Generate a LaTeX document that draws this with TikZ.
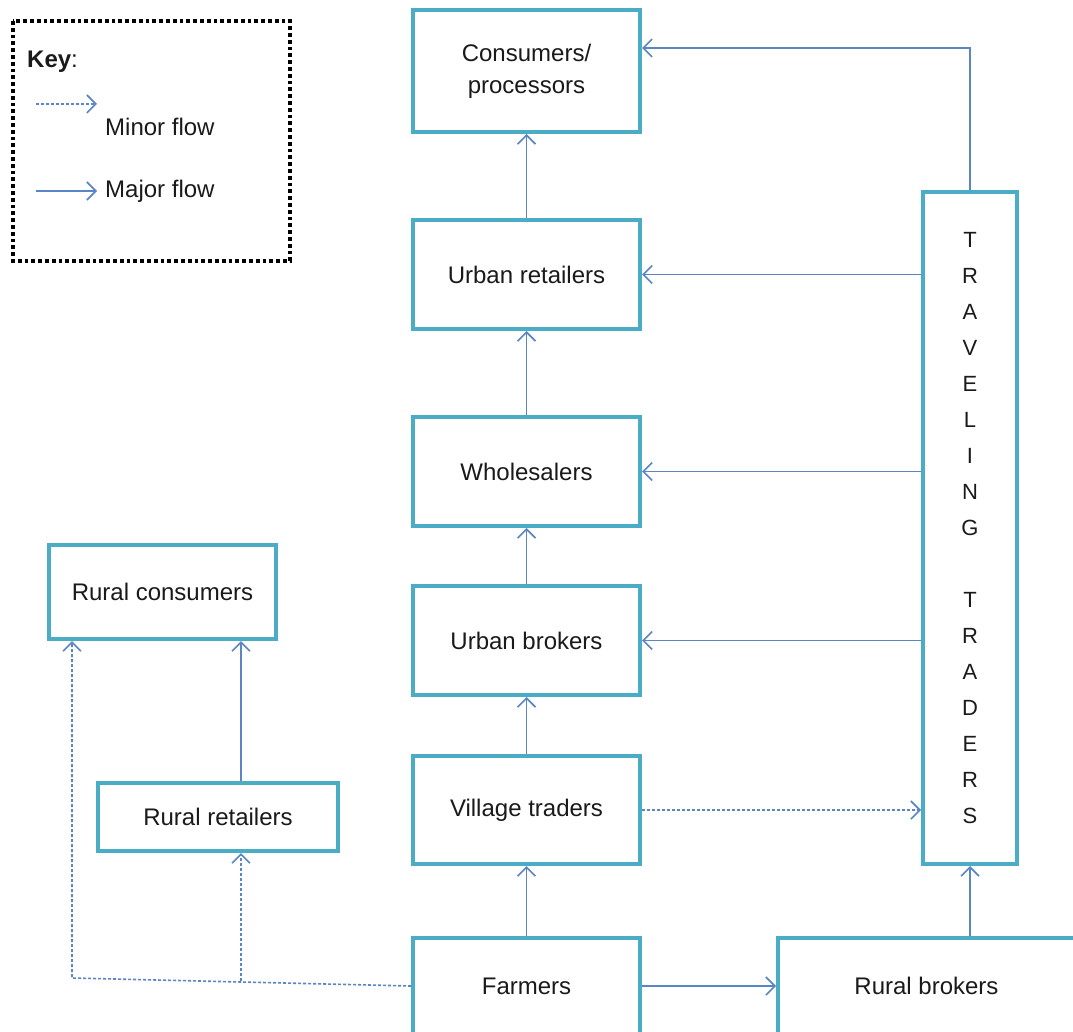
\documentclass[tikz,border=0pt]{standalone}
\usepackage{fontspec}
\setmainfont{Liberation Sans}
\usetikzlibrary{arrows.meta}
\definecolor{boxline}{HTML}{4BACC6}
\definecolor{flow}{HTML}{5B86C5}
\definecolor{ink}{HTML}{1A1A1A}
\tikzset{
  stagebox/.style={draw=boxline, line width=4pt, fill=white, inner sep=0pt,
    text=ink, align=center, font=\fontsize{24}{32}\selectfont},
  flowtip/.style={-{Straight Barb[length=9pt,width=18pt,line width=1.6pt]}},
  major/.style={flowtip, draw=flow, line width=1.6pt},
  minor/.style={flowtip, draw=flow, line width=1.6pt, dash pattern=on 3pt off 2pt},
  keytext/.style={text=ink, inner sep=0pt, anchor=west, font=\fontsize{24}{28}\selectfont},
}
\begin{document}
\begin{tikzpicture}[x=1pt, y=-1pt]
\useasboundingbox (0,0) rectangle (1073,1032);
\clip (0,0) rectangle (1073,1032);
\fill[white] (0,0) rectangle (1073,1032);

% main chain of stages
\node[stagebox, minimum width=227pt, minimum height=122pt] (cons)  at (526.5,71)  {Consumers/\\processors};
\node[stagebox, minimum width=227pt, minimum height=109pt] (uret)  at (526.5,274.5) {Urban retailers};
\node[stagebox, minimum width=227pt, minimum height=109pt] (whole) at (526.5,471.5) {Wholesalers};
\node[stagebox, minimum width=227pt, minimum height=109pt] (ubrok) at (526.5,640.5) {Urban brokers};
\node[stagebox, minimum width=227pt, minimum height=108pt] (vill)  at (526.5,810)  {Village traders};
\node[stagebox, minimum width=227pt, minimum height=96pt]  (farm)  at (526.5,986)  {Farmers};
\node[stagebox, minimum width=297pt, minimum height=96pt]  (rbrok) at (926.5,986)  {Rural brokers};

% traveling traders column
\node[stagebox, minimum width=94pt, minimum height=672pt, font=\fontsize{22}{36}\selectfont] (trav) at (970,528)
  {T\\R\\A\\V\\E\\L\\I\\N\\G\\[36pt]T\\R\\A\\D\\E\\R\\S};

% rural side
\node[stagebox, minimum width=227pt, minimum height=94pt] (rcons) at (162.5,592) {Rural consumers};
\node[stagebox, minimum width=240pt, minimum height=68pt] (rret)  at (218,817)   {Rural retailers};

% major flows up the chain
\draw[major] (uret.north)  -- (cons.south);
\draw[major] (whole.north) -- (uret.south);
\draw[major] (ubrok.north) -- (whole.south);
\draw[major] (vill.north)  -- (ubrok.south);
\draw[major] (farm.north)  -- (vill.south);
\draw[major] (farm.east)   -- (rbrok.west);
\draw[major] (rbrok.north -| trav.south) -- (trav.south);

% traveling traders supply
\coordinate (travtop) at (trav.north);
\coordinate (consin) at (cons.east |- 0,48);
\draw[major] (travtop) -- (travtop |- consin) -- (consin);
\draw[major] (trav.west |- uret.east)  -- (uret.east);
\draw[major] (trav.west |- whole.east) -- (whole.east);
\draw[major] (trav.west |- ubrok.east) -- (ubrok.east);
\draw[minor] (vill.east) -- (trav.west |- vill.east);

% rural flows
\coordinate (dcorner) at (72,978);
\coordinate (dbranch) at (241,981);
\draw[minor] (farm.west) -- (dcorner) -- (dcorner |- rcons.south);
\draw[minor] (dbranch) -- (dbranch |- rret.south);
\draw[major] (dbranch |- rret.north) -- (dbranch |- rcons.south);

% key
\draw[black, line width=3.8pt, dash pattern=on 3.8pt off 3pt] (13,21) rectangle (290,261);
\node[keytext] (keytitle) at (27,62) {\textbf{Key}:};
\coordinate (minA) at (36,104);
\coordinate (minB) at (97,104);
\coordinate (majA) at (36,191);
\coordinate (majB) at (97,191);
\draw[minor] (minA) -- (minB);
\draw[major] (majA) -- (majB);
\node[keytext] (minlabel) at (105,127) {Minor flow};
\node[keytext] (majlabel) at (105,191) {Major flow};
\end{tikzpicture}
\end{document}
